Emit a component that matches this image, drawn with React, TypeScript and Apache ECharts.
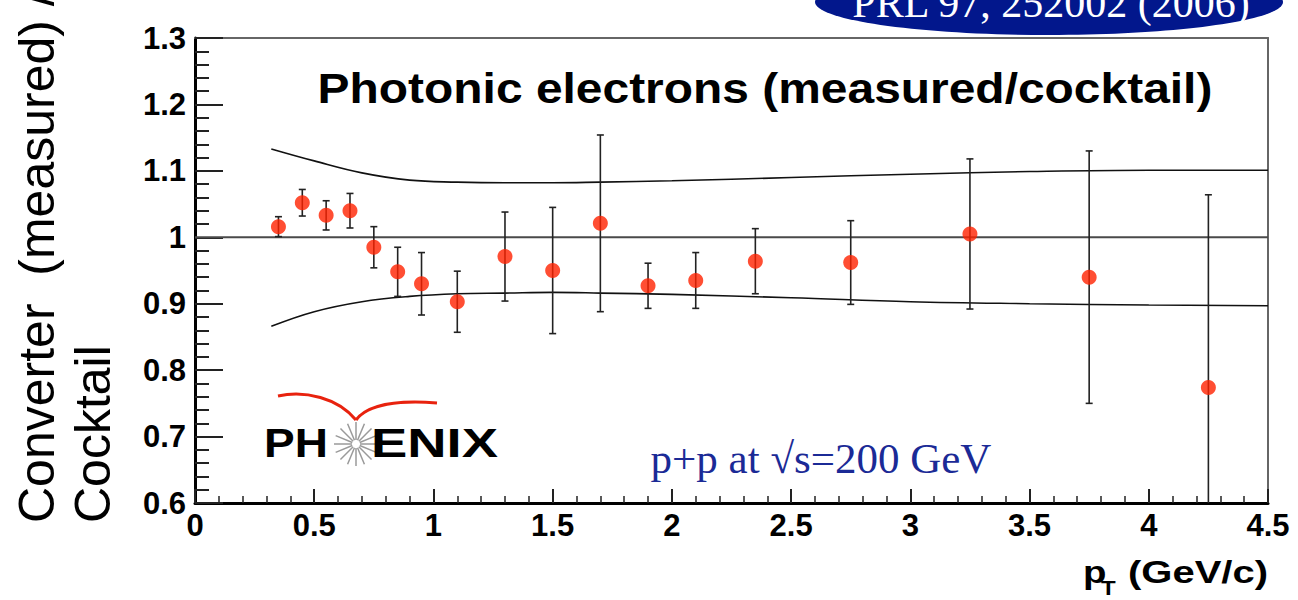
import React, { useEffect, useRef } from 'react';
import * as echarts from 'echarts';

// Measured / cocktail ratio for photonic electrons
const ptValues = [0.35, 0.45, 0.55, 0.65, 0.75, 0.85, 0.95, 1.1, 1.3, 1.5, 1.7, 1.9, 2.1, 2.35, 2.75, 3.25, 3.75, 4.25];
const ratioValues = [1.016, 1.052, 1.033, 1.040, 0.985, 0.948, 0.930, 0.903, 0.971, 0.950, 1.021, 0.927, 0.935, 0.964, 0.962, 1.005, 0.940, 0.774];
const ratioErrors = [0.015, 0.020, 0.022, 0.026, 0.031, 0.037, 0.047, 0.046, 0.067, 0.095, 0.133, 0.034, 0.042, 0.049, 0.063, 0.113, 0.190, 0.290];

// Systematic band (upper / lower curves)
const bandX = [0.32, 0.5, 0.7, 0.9, 1.1, 1.3, 1.5, 1.7, 2.0, 2.5, 3.0, 3.5, 4.0, 4.5];
const bandUpper = [1.133, 1.115, 1.097, 1.086, 1.083, 1.082, 1.082, 1.083, 1.085, 1.090, 1.095, 1.099, 1.101, 1.101];
const bandLower = [0.866, 0.888, 0.903, 0.911, 0.915, 0.916, 0.917, 0.916, 0.914, 0.909, 0.903, 0.900, 0.898, 0.897];

const referenceLine = [[0, 1], [4.5, 1]];

const titleText = 'Photonic electrons (measured/cocktail)';
const yTitleLine1 = 'Converter  (measured) /';
const yTitleLine2 = 'Cocktail';
const systemText = 'p+p at \u221As=200 GeV';
const refText = 'PRL 97, 252002 (2006)';

export default function App() {
  const ref = useRef<HTMLDivElement>(null);

  useEffect(() => {
    if (!ref.current) return;
    const chart = echarts.init(ref.current, undefined, { renderer: 'svg' });

    const labelFont = { fontFamily: 'Liberation Sans', fontWeight: 'bold' as const, fontSize: 31, color: '#000' };

    const starRays: any[] = [];
    const rayCount = 16;
    for (let i = 0; i < rayCount; i++) {
      const a = (i / rayCount) * Math.PI * 2;
      starRays.push({
        type: 'line',
        shape: { x1: 356 + Math.cos(a) * 4, y1: 444 + Math.sin(a) * 4, x2: 356 + Math.cos(a) * 22, y2: 444 + Math.sin(a) * 22 },
        style: { stroke: '#9a9a9a', lineWidth: 1.5 },
      });
    }

    const option: any = {
      animation: false,
      backgroundColor: '#ffffff',
      grid: { left: 195, right: 30, top: 38, bottom: 97 },
      xAxis: [
        {
          type: 'value', min: 0, max: 4.5, interval: 0.5,
          axisLine: { onZero: false, lineStyle: { color: '#000', width: 3 } },
          axisTick: { inside: true, length: 14, lineStyle: { color: '#222', width: 2 } },
          minorTick: { show: true, splitNumber: 5, length: 7, lineStyle: { color: '#222', width: 1.5 } },
          splitLine: { show: false },
          axisLabel: { ...labelFont, margin: 7 },
        },
        {
          type: 'value', position: 'top', min: 0, max: 4.5,
          axisLine: { onZero: false, lineStyle: { color: '#666', width: 2 } },
          axisTick: { show: false }, axisLabel: { show: false }, splitLine: { show: false },
        },
      ],
      yAxis: [
        {
          type: 'value', min: 0.6, max: 1.3, interval: 0.1,
          axisLine: { onZero: false, lineStyle: { color: '#000', width: 3 } },
          axisTick: { inside: true, length: 28, lineStyle: { color: '#222', width: 2 } },
          minorTick: { show: true, splitNumber: 5, length: 14, lineStyle: { color: '#222', width: 2 } },
          splitLine: { show: false },
          axisLabel: { ...labelFont, margin: 9 },
        },
        {
          type: 'value', position: 'right', min: 0.6, max: 1.3,
          axisLine: { onZero: false, lineStyle: { color: '#666', width: 2 } },
          axisTick: { show: false }, axisLabel: { show: false }, splitLine: { show: false },
        },
      ],
      series: [
        {
          type: 'line', data: referenceLine, showSymbol: false, silent: true,
          lineStyle: { color: '#4a4a4a', width: 2 }, z: 1,
        },
        {
          type: 'line', data: bandX.map((x, i) => [x, bandUpper[i]]), smooth: 0.4, showSymbol: false, silent: true,
          lineStyle: { color: '#111', width: 1.6 }, z: 2,
        },
        {
          type: 'line', data: bandX.map((x, i) => [x, bandLower[i]]), smooth: 0.4, showSymbol: false, silent: true,
          lineStyle: { color: '#111', width: 1.6 }, z: 2,
        },
        {
          type: 'custom', clip: true, z: 3,
          data: ptValues.map((x, i) => [x, ratioValues[i], ratioErrors[i]]),
          renderItem: (params: any, api: any) => {
            const x = api.value(0);
            const y = api.value(1);
            const e = api.value(2);
            const hi = api.coord([x, y + e]);
            const lo = api.coord([x, y - e]);
            const w = 3.5;
            const st = { stroke: '#222', lineWidth: 1.6 };
            return {
              type: 'group',
              children: [
                { type: 'line', shape: { x1: hi[0], y1: hi[1], x2: lo[0], y2: lo[1] }, style: st },
                { type: 'line', shape: { x1: hi[0] - w, y1: hi[1], x2: hi[0] + w, y2: hi[1] }, style: st },
                { type: 'line', shape: { x1: lo[0] - w, y1: lo[1], x2: lo[0] + w, y2: lo[1] }, style: st },
              ],
            };
          },
        },
        {
          type: 'scatter', z: 4, symbol: 'circle', symbolSize: 15,
          data: ptValues.map((x, i) => [x, ratioValues[i]]),
          itemStyle: { color: '#ff2200' },
        },
      ],
      graphic: [
        { type: 'ellipse', shape: { cx: 1049, cy: 2, rx: 234, ry: 33 }, style: { fill: '#02178c' }, z: 10 },
        {
          type: 'text', x: 1051, y: 3, z: 11,
          style: { text: refText, fontFamily: 'Liberation Serif', fontSize: 42, fill: '#ffffff', align: 'center', verticalAlign: 'middle' },
        },
        {
          type: 'text', x: 765, y: 88, scaleX: 1.115, z: 11,
          style: { text: titleText, fontFamily: 'Liberation Sans', fontWeight: 'bold', fontSize: 43, fill: '#000', align: 'center', verticalAlign: 'middle' },
        },
        {
          type: 'text', x: 37, y: 523, rotation: Math.PI / 2, z: 11,
          style: { text: yTitleLine1, fontFamily: 'Liberation Sans', fontSize: 50, fill: '#000', align: 'left', verticalAlign: 'middle' },
        },
        {
          type: 'text', x: 93, y: 523, rotation: Math.PI / 2, z: 11,
          style: { text: yTitleLine2, fontFamily: 'Liberation Sans', fontSize: 50, fill: '#000', align: 'left', verticalAlign: 'middle' },
        },
        {
          type: 'text', x: 1083, y: 572, scaleX: 1.2, z: 11,
          style: { text: 'p', fontFamily: 'Liberation Sans', fontWeight: 'bold', fontSize: 32, fill: '#000', align: 'left', verticalAlign: 'middle' },
        },
        {
          type: 'text', x: 1101, y: 588, scaleX: 1.2, z: 11,
          style: { text: 'T', fontFamily: 'Liberation Sans', fontWeight: 'bold', fontSize: 20, fill: '#000', align: 'left', verticalAlign: 'middle' },
        },
        {
          type: 'text', x: 1268, y: 572, scaleX: 1.25, z: 11,
          style: { text: '(GeV/c)', fontFamily: 'Liberation Sans', fontWeight: 'bold', fontSize: 32, fill: '#000', align: 'right', verticalAlign: 'middle' },
        },
        {
          type: 'text', x: 821, y: 458, z: 11,
          style: { text: systemText, fontFamily: 'Liberation Serif', fontSize: 43, fill: '#1b2a96', align: 'center', verticalAlign: 'middle' },
        },
        {
          type: 'text', x: 264, y: 443, scaleX: 1.15, z: 11,
          style: { text: 'PH', fontFamily: 'Liberation Sans', fontWeight: 'bold', fontSize: 40, fill: '#000', align: 'left', verticalAlign: 'middle' },
        },
        {
          type: 'text', x: 371, y: 443, scaleX: 1.36, z: 11,
          style: { text: 'ENIX', fontFamily: 'Liberation Sans', fontWeight: 'bold', fontSize: 40, fill: '#000', align: 'left', verticalAlign: 'middle' },
        },
        { type: 'group', z: 11, children: starRays },
        {
          type: 'bezierCurve', z: 11,
          shape: { x1: 278, y1: 396, cpx1: 305, cpy1: 390, cpx2: 338, cpy2: 398, x2: 356, y2: 420 },
          style: { stroke: '#e8220e', lineWidth: 3, fill: 'none' },
        },
        {
          type: 'bezierCurve', z: 11,
          shape: { x1: 356, y1: 420, cpx1: 368, cpy1: 404, cpx2: 400, cpy2: 400, x2: 437, y2: 403 },
          style: { stroke: '#e8220e', lineWidth: 3, fill: 'none' },
        },
      ],
    };

    chart.setOption(option);
    return () => chart.dispose();
  }, []);

  return <div ref={ref} style={{ position: 'absolute', left: 0, top: 0, width: 1298, height: 600 }} />;
}
